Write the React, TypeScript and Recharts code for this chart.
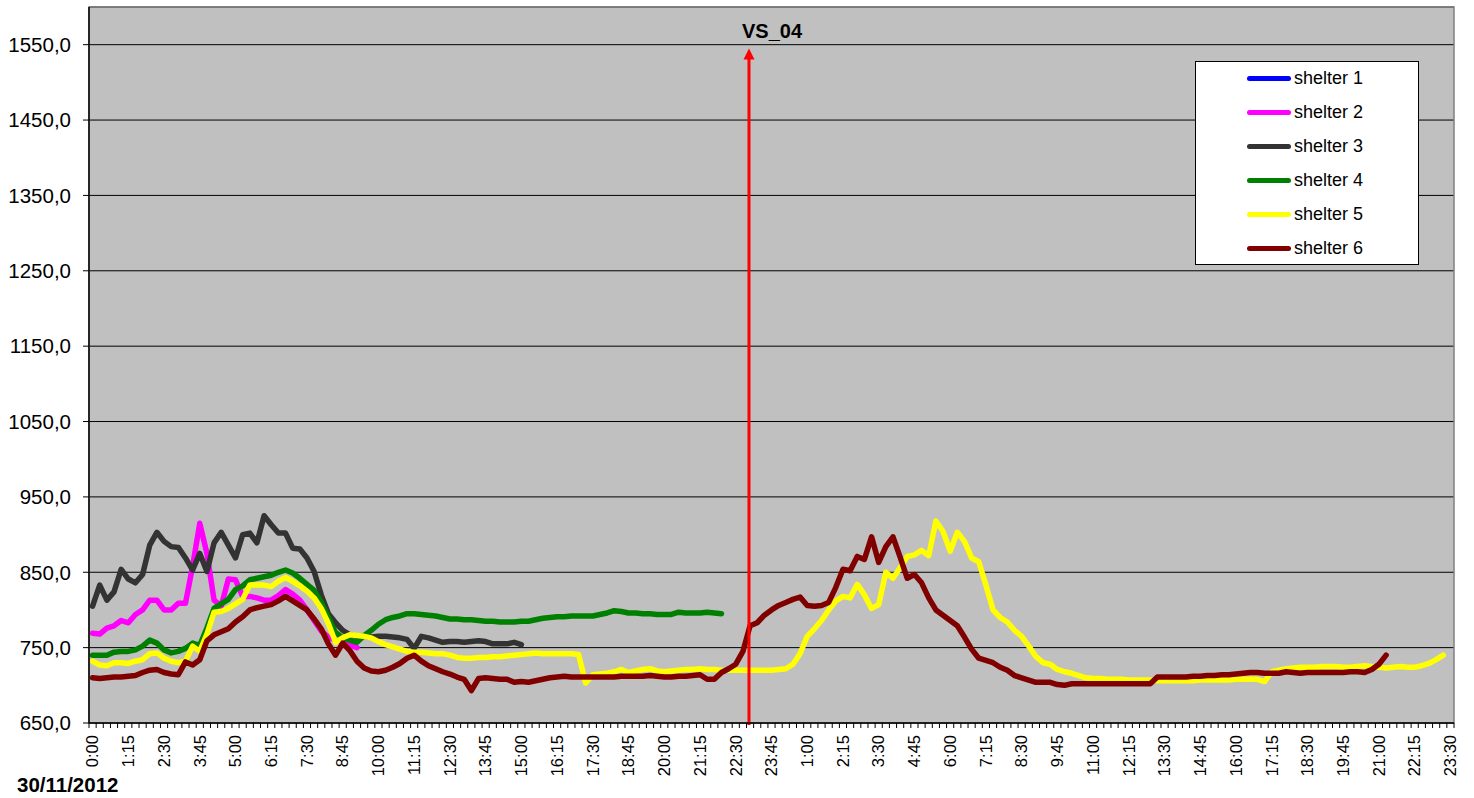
import React from "react";
import {
  LineChart,
  Line,
  XAxis,
  YAxis,
  CartesianGrid,
  ReferenceLine,
  ReferenceArea,
} from "recharts";

const FONT = "'Liberation Sans', Arial, Helvetica, sans-serif";

// Time slots: one reading every 15 minutes over two days (0:00 to 23:30 next day)
const STEP_MINUTES = 15;
const SLOT_COUNT = 191;
const LABEL_EVERY = 5;
const slotLabels: string[] = Array.from({ length: SLOT_COUNT }, (_, i) => {
  const t = i * STEP_MINUTES;
  const h = Math.floor(t / 60) % 24;
  const m = t % 60;
  return `${h}:${String(m).padStart(2, "0")}`;
});

const dateLabel = "30/11/2012";

const yTicks = [650, 750, 850, 950, 1050, 1150, 1250, 1350, 1450, 1550];
const yDomain: [number, number] = [650, 1600];

// Event marker (slot position of the VS_04 intervention, ~22:58)
const eventLabel = "VS_04";
const eventSlot = 91.85;
const eventArrowTop = 1545;

// Readings per shelter, starting at 0:00, one value per slot
const shelter1: number[] = [];

const shelter2: number[] = [
  769, 768, 776, 779, 786, 783, 794, 800, 813, 813,
  800, 800, 809, 809, 858, 915, 875, 813, 805, 841,
  840, 818, 818, 816, 813, 813, 819, 827, 821, 813,
  800, 786, 772, 764, 760, 757, 754, 750,
];

const shelter3: number[] = [
  805, 833, 813, 824, 854, 841, 836, 847, 886, 903,
  891, 884, 883, 869, 853, 875, 851, 889, 903, 886,
  869, 900, 902, 889, 925, 913, 902, 902, 882, 881,
  869, 851, 820, 795, 783, 773, 767, 765, 765, 764,
  765, 765, 764, 763, 761, 749, 765, 763, 760, 757,
  758, 758, 757, 758, 759, 758, 755, 755, 755, 757,
  754,
];

const shelter4: number[] = [
  740, 740, 740, 744, 745, 745, 747, 752, 760, 756,
  747, 743, 745, 749, 756, 753, 776, 802, 808, 814,
  827, 832, 840, 842, 844, 846, 850, 853, 849, 842,
  834, 826, 810, 790, 770, 763, 760, 757, 766, 773,
  781, 787, 790, 792, 795, 795, 794, 793, 792, 790,
  788, 788, 787, 787, 786, 785, 785, 784, 784, 784,
  785, 785, 787, 789, 790, 791, 791, 792, 792, 792,
  792, 794, 796, 799, 798, 796, 796, 795, 795, 794,
  794, 794, 797, 796, 796, 796, 797, 796, 795,
];

const shelter5: number[] = [
  732, 727, 726, 730, 730, 729, 732, 734, 742, 743,
  736, 732, 730, 732, 752, 745, 768, 797, 798, 802,
  808, 814, 833, 833, 833, 831, 838, 843, 838, 832,
  825, 816, 802, 782, 757, 763, 767, 766, 765, 763,
  758, 754, 751, 748, 745, 744, 744, 743, 742, 742,
  740, 737, 736, 736, 737, 737, 738, 738, 739, 740,
  741, 742, 743, 742, 742, 742, 742, 742, 741, 703,
  714, 715, 716, 718, 721, 717, 719, 721, 722, 719,
  718, 719, 720, 721, 721, 722, 721, 721, 720, 720,
  720, 720, 720, 720, 720, 720, 721, 722, 728, 742,
  765, 775, 786, 800, 812, 818, 816, 834, 820, 802,
  807, 850, 842, 856, 871, 873, 879, 872, 918, 904,
  878, 903, 891, 869, 864, 833, 800, 790, 784, 773,
  765, 752, 738, 730, 728, 721, 718, 716, 713, 710,
  709, 709, 708, 708, 708, 707, 707, 707, 707, 706,
  706, 706, 706, 706, 706, 707, 707, 707, 707, 707,
  708, 708, 708, 708, 705, 718, 720, 722, 723, 724,
  724, 724, 725, 725, 725, 724, 724, 725, 726, 725,
  724, 723, 724, 725, 724, 724, 726, 729, 734, 740,
];

const shelter6: number[] = [
  710, 709, 710, 711, 711, 712, 713, 717, 720, 721,
  717, 715, 714, 731, 727, 734, 759, 767, 771, 775,
  784, 791, 800, 803, 805, 807, 812, 818, 812, 806,
  800, 788, 775, 755, 740, 756, 746, 732, 723, 719,
  718, 720, 724, 729, 736, 740, 732, 726, 722, 718,
  715, 711, 708, 693, 709, 710, 709, 708, 708, 704,
  705, 704, 706, 708, 710, 711, 712, 711, 711, 711,
  711, 711, 711, 711, 712, 712, 712, 712, 713, 712,
  711, 711, 712, 712, 713, 714, 708, 708, 717, 722,
  728, 745, 779, 783, 793, 800, 806, 810, 814, 817,
  806, 805, 806, 810, 830, 854, 852, 871, 867, 897,
  863, 884, 897, 870, 842, 847, 836, 816, 800, 793,
  786, 779, 764, 748, 736, 733, 730, 724, 720, 713,
  710, 707, 704, 704, 704, 701, 700, 702, 702, 702,
  702, 702, 702, 702, 702, 702, 702, 702, 702, 711,
  711, 711, 711, 711, 712, 712, 713, 713, 714, 714,
  715, 716, 717, 717, 716, 716, 716, 718, 717, 716,
  717, 717, 717, 717, 717, 717, 718, 718, 717, 721,
  728, 740,
];

const series = [
  { key: "s1", name: "shelter 1", color: "#0000ff", values: shelter1 },
  { key: "s2", name: "shelter 2", color: "#ff00ff", values: shelter2 },
  { key: "s3", name: "shelter 3", color: "#333333", values: shelter3 },
  { key: "s4", name: "shelter 4", color: "#008000", values: shelter4 },
  { key: "s5", name: "shelter 5", color: "#ffff00", values: shelter5 },
  { key: "s6", name: "shelter 6", color: "#800000", values: shelter6 },
];

const data = slotLabels.map((label, i) => {
  const row: Record<string, number | string | null> = { i, label };
  series.forEach((s) => {
    row[s.key] = i < s.values.length ? s.values[i] : null;
  });
  return row;
});

// Tick marks sit on slot boundaries; labels sit on every 5th slot centre
const boundaryTicks = Array.from({ length: SLOT_COUNT + 1 }, (_, i) => i - 0.5);
const labelTicks = Array.from(
  { length: Math.floor((SLOT_COUNT - 1) / LABEL_EVERY) + 1 },
  (_, k) => k * LABEL_EVERY
);
const xTicks = [...boundaryTicks, ...labelTicks].sort((a, b) => a - b);

const W = 1474;
const H = 798;

const SlotTick = (props: any) => {
  const { x, y, payload } = props;
  const v = payload.value as number;
  if (!Number.isInteger(v)) {
    return <line x1={x} y1={y} x2={x} y2={y + 5} stroke="#000" strokeWidth={1} />;
  }
  const ty = y + 12;
  return (
    <text
      x={x}
      y={ty}
      transform={`rotate(-90, ${x}, ${ty})`}
      textAnchor="end"
      dy="0.35em"
      fontSize={16.5}
      fontFamily={FONT}
      fill="#000"
    >
      {slotLabels[v]}
    </text>
  );
};

const EventArrow = (props: any) => {
  const { x1, y1, x2, y2 } = props;
  const x = x1 ?? x2;
  const tipY = Math.min(y1, y2);
  const baseY = Math.max(y1, y2);
  return (
    <g>
      <line x1={x} y1={baseY + 2} x2={x} y2={tipY + 9} stroke="#ff0000" strokeWidth={3} />
      <polygon
        points={`${x},${tipY} ${x - 5.5},${tipY + 11} ${x + 5.5},${tipY + 11}`}
        fill="#ff0000"
      />
      <text
        x={x + 23}
        y={tipY - 10}
        textAnchor="middle"
        fontSize={20}
        fontWeight="bold"
        fontFamily={FONT}
        fill="#000"
      >
        {eventLabel}
      </text>
    </g>
  );
};

const fmtY = (v: number) => v.toFixed(1).replace(".", ",");

export default function App() {
  return (
    <div style={{ position: "absolute", left: 0, top: 0, width: W, height: H, background: "#fff" }}>
      <LineChart
        width={W}
        height={H}
        data={data}
        margin={{ top: 7, right: 20, bottom: 0, left: 0 }}
      >
        <CartesianGrid vertical={false} stroke="#000" fill="#c0c0c0" fillOpacity={1} />
        <ReferenceArea
          x1={-0.5}
          x2={SLOT_COUNT - 0.5}
          y1={yDomain[0]}
          y2={yDomain[1]}
          fill="none"
          stroke="#808080"
          strokeWidth={1.5}
          ifOverflow="visible"
        />
        <XAxis
          dataKey="i"
          type="number"
          domain={[-0.5, SLOT_COUNT - 0.5]}
          ticks={xTicks}
          interval={0}
          tick={<SlotTick />}
          tickLine={false}
          tickSize={0}
          tickMargin={0}
          axisLine={{ stroke: "#000", strokeWidth: 1.5 }}
          height={75}
          allowDecimals
        />
        <YAxis
          type="number"
          domain={yDomain}
          ticks={yTicks}
          interval={0}
          width={89}
          tickSize={6}
          tickMargin={12}
          tickLine={{ stroke: "#000" }}
          axisLine={{ stroke: "#000", strokeWidth: 1.5 }}
          tick={{ fontSize: 20.5, fontFamily: FONT, fill: "#000" }}
          tickFormatter={fmtY}
          allowDataOverflow
        />
        {series.map((s) => (
          <Line
            key={s.key}
            dataKey={s.key}
            name={s.name}
            type="linear"
            stroke={s.color}
            strokeWidth={5.5}
            strokeLinejoin="round"
            strokeLinecap="round"
            dot={false}
            activeDot={false}
            connectNulls={false}
            isAnimationActive={false}
          />
        ))}
        <ReferenceLine
          segment={[
            { x: eventSlot, y: yDomain[0] },
            { x: eventSlot, y: eventArrowTop },
          ]}
          shape={<EventArrow />}
          ifOverflow="visible"
        />
      </LineChart>

      <svg
        width={W}
        height={H}
        style={{ position: "absolute", left: 0, top: 0, pointerEvents: "none" }}
      >
        <text x={17} y={792} fontSize={20.5} fontWeight="bold" fontFamily={FONT} fill="#000">
          {dateLabel}
        </text>
      </svg>

      <div
        style={{
          position: "absolute",
          left: 1195,
          top: 61,
          width: 224,
          height: 204,
          boxSizing: "border-box",
          border: "1px solid #000",
          background: "#fff",
          fontFamily: FONT,
          fontSize: 18,
          color: "#000",
        }}
      >
        {series.map((s, idx) => (
          <div
            key={s.key}
            style={{
              position: "absolute",
              left: 0,
              top: idx * 34 - 1,
              height: 34,
              width: "100%",
              display: "flex",
              alignItems: "center",
            }}
          >
            <span
              style={{
                marginLeft: 51,
                width: 44,
                height: 5,
                borderRadius: 3,
                background: s.color,
                display: "inline-block",
              }}
            />
            <span style={{ marginLeft: 3, lineHeight: "18px" }}>{s.name}</span>
          </div>
        ))}
      </div>
    </div>
  );
}
